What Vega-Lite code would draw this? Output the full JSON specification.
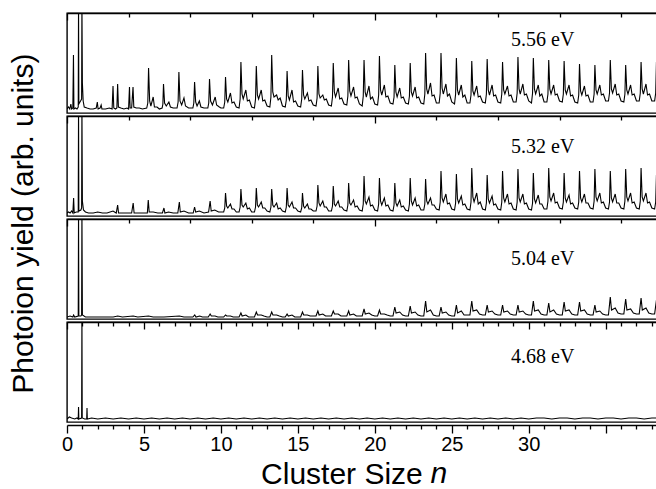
{
"$schema": "https://vega.github.io/schema/vega-lite/v6.json",
"padding": {"left": 8, "top": 11, "right": 0, "bottom": 0},
"title": {"text": "Photoion yield (arb. units)", "orient": "left", "anchor": "middle", "font": "Liberation Sans", "fontSize": 30, "fontWeight": "normal", "color": "black", "offset": 22, "dx": 27},
"spacing": 0,
"config": {
 "view": {"stroke": "black", "strokeWidth": 1.4},
 "axis": {"domainColor": "black", "domainWidth": 1.4, "tickColor": "black", "tickWidth": 1.3, "labelFont": "Liberation Sans", "labelFontSize": 20, "labelColor": "black", "titleFont": "Liberation Sans", "titleFontWeight": "normal", "titleFontSize": 30, "titleColor": "black", "grid": false},
 "concat": {"spacing": 0}
},
"datasets": {
"p1": [
{"x":0,"y":4},{"x":0.1,"y":6},{"x":0.18,"y":4},{"x":0.25,"y":9},{"x":0.3,"y":4},{"x":0.38,"y":5},{"x":0.42,"y":58},{"x":0.45,"y":4},{"x":0.55,"y":5},{"x":0.65,"y":4},{"x":0.73,"y":6},{"x":0.75,"y":110},{"x":0.77,"y":9},{"x":0.88,"y":12},{"x":0.95,"y":14},{"x":0.97,"y":110},{"x":1.0,"y":30},{"x":1.05,"y":12},{"x":1.12,"y":6},{"x":1.3,"y":5},{"x":1.5,"y":4},{"x":1.7,"y":4},{"x":1.9,"y":5},{"x":1.97,"y":11},{"x":2.02,"y":4},{"x":2.15,"y":5},{"x":2.22,"y":8},{"x":2.27,"y":4},{"x":2.5,"y":4},{"x":2.75,"y":5},{"x":2.93,"y":4},{"x":2.99,"y":27},{"x":3.04,"y":5},{"x":3.15,"y":4},{"x":3.24,"y":5},{"x":3.29,"y":29},{"x":3.34,"y":6},{"x":3.5,"y":5},{"x":3.7,"y":4},{"x":3.9,"y":5},{"x":4.0,"y":4},{"x":4.06,"y":26},{"x":4.1,"y":5},{"x":4.2,"y":5},{"x":4.29,"y":26},{"x":4.34,"y":6},{"x":4.5,"y":5},{"x":4.7,"y":5},{"x":4.9,"y":4},{"x":5.18,"y":5},{"x":5.25,"y":10},{"x":5.3,"y":45},{"x":5.37,"y":12},{"x":5.45,"y":7},{"x":5.6,"y":16},{"x":5.68,"y":6},{"x":5.85,"y":6},{"x":6.0,"y":4},{"x":6.18,"y":5},{"x":6.23,"y":9},{"x":6.27,"y":29},{"x":6.34,"y":10},{"x":6.45,"y":7},{"x":6.62,"y":11},{"x":6.72,"y":6},{"x":6.9,"y":5},{"x":7.15,"y":5},{"x":7.22,"y":11},{"x":7.27,"y":41},{"x":7.34,"y":12},{"x":7.45,"y":8},{"x":7.6,"y":15},{"x":7.7,"y":7},{"x":7.9,"y":5},{"x":8.18,"y":5},{"x":8.24,"y":10},{"x":8.29,"y":31},{"x":8.36,"y":11},{"x":8.45,"y":7},{"x":8.6,"y":12},{"x":8.7,"y":6},{"x":8.9,"y":5},{"x":9.15,"y":5},{"x":9.21,"y":10},{"x":9.26,"y":34},{"x":9.33,"y":12},{"x":9.45,"y":8},{"x":9.63,"y":16},{"x":9.72,"y":8},{"x":9.9,"y":6},{"x":10.0,"y":5},
{"x":10.18,"y":5},{"x":10.25,"y":11},{"x":10.3,"y":36},{"x":10.37,"y":14},{"x":10.45,"y":11},{"x":10.62,"y":20},{"x":10.72,"y":10},{"x":10.85,"y":11},{"x":11.0,"y":6},
{"x":11.18,"y":5},{"x":11.25,"y":14},{"x":11.3,"y":51},{"x":11.37,"y":19},{"x":11.45,"y":14},{"x":11.62,"y":23},{"x":11.72,"y":12},{"x":11.85,"y":13},{"x":12.0,"y":6},
{"x":12.18,"y":5},{"x":12.25,"y":14},{"x":12.3,"y":47},{"x":12.37,"y":18},{"x":12.45,"y":14},{"x":12.62,"y":23},{"x":12.72,"y":12},{"x":12.85,"y":13},{"x":13.0,"y":7},
{"x":13.18,"y":6},{"x":13.25,"y":16},{"x":13.3,"y":58},{"x":13.37,"y":21},{"x":13.45,"y":16},{"x":13.62,"y":18},{"x":13.72,"y":13},{"x":13.85,"y":15},{"x":14.0,"y":7},
{"x":14.18,"y":6},{"x":14.25,"y":13},{"x":14.3,"y":42},{"x":14.37,"y":17},{"x":14.45,"y":13},{"x":14.62,"y":23},{"x":14.72,"y":11},{"x":14.85,"y":12},{"x":15.0,"y":7},
{"x":15.18,"y":6},{"x":15.25,"y":14},{"x":15.3,"y":43},{"x":15.37,"y":18},{"x":15.45,"y":14},{"x":15.62,"y":20},{"x":15.72,"y":12},{"x":15.85,"y":13},{"x":16.0,"y":8},
{"x":16.18,"y":7},{"x":16.25,"y":15},{"x":16.3,"y":47},{"x":16.37,"y":19},{"x":16.45,"y":15},{"x":16.62,"y":18},{"x":16.72,"y":13},{"x":16.85,"y":14},{"x":17.0,"y":8},
{"x":17.18,"y":7},{"x":17.25,"y":16},{"x":17.3,"y":50},{"x":17.37,"y":21},{"x":17.45,"y":16},{"x":17.62,"y":25},{"x":17.72,"y":14},{"x":17.85,"y":15},{"x":18.0,"y":9},
{"x":18.18,"y":8},{"x":18.25,"y":17},{"x":18.3,"y":53},{"x":18.37,"y":22},{"x":18.45,"y":17},{"x":18.62,"y":26},{"x":18.72,"y":15},{"x":18.85,"y":16},{"x":19.0,"y":9},
{"x":19.18,"y":7},{"x":19.25,"y":17},{"x":19.3,"y":53},{"x":19.37,"y":21},{"x":19.45,"y":16},{"x":19.62,"y":27},{"x":19.72,"y":14},{"x":19.85,"y":16},{"x":20.0,"y":9},
{"x":20.18,"y":8},{"x":20.25,"y":18},{"x":20.3,"y":57},{"x":20.37,"y":23},{"x":20.45,"y":18},{"x":20.62,"y":28},{"x":20.72,"y":16},{"x":20.85,"y":17},{"x":21.0,"y":10},
{"x":21.18,"y":9},{"x":21.25,"y":16},{"x":21.3,"y":48},{"x":21.37,"y":21},{"x":21.45,"y":16},{"x":21.62,"y":25},{"x":21.72,"y":15},{"x":21.85,"y":16},{"x":22.0,"y":10},
{"x":22.18,"y":9},{"x":22.25,"y":17},{"x":22.3,"y":50},{"x":22.37,"y":21},{"x":22.45,"y":17},{"x":22.62,"y":26},{"x":22.72,"y":15},{"x":22.85,"y":16},{"x":23.0,"y":10},
{"x":23.18,"y":9},{"x":23.25,"y":19},{"x":23.3,"y":60},{"x":23.37,"y":24},{"x":23.45,"y":19},{"x":23.62,"y":30},{"x":23.72,"y":17},{"x":23.85,"y":18},{"x":24.0,"y":10},
{"x":24.18,"y":10},{"x":24.25,"y":20},{"x":24.3,"y":60},{"x":24.37,"y":25},{"x":24.45,"y":19},{"x":24.62,"y":29},{"x":24.72,"y":17},{"x":24.85,"y":19},{"x":25.0,"y":11},
{"x":25.18,"y":9},{"x":25.25,"y":19},{"x":25.3,"y":55},{"x":25.37,"y":23},{"x":25.45,"y":18},{"x":25.62,"y":28},{"x":25.72,"y":16},{"x":25.85,"y":18},{"x":26.0,"y":10},
{"x":26.18,"y":10},{"x":26.25,"y":18},{"x":26.3,"y":52},{"x":26.37,"y":22},{"x":26.45,"y":18},{"x":26.62,"y":27},{"x":26.72,"y":16},{"x":26.85,"y":17},{"x":27.0,"y":11},
{"x":27.18,"y":10},{"x":27.25,"y":19},{"x":27.3,"y":54},{"x":27.37,"y":23},{"x":27.45,"y":18},{"x":27.62,"y":28},{"x":27.72,"y":17},{"x":27.85,"y":18},{"x":28.0,"y":11},
{"x":28.18,"y":10},{"x":28.25,"y":19},{"x":28.3,"y":51},{"x":28.37,"y":23},{"x":28.45,"y":19},{"x":28.62,"y":27},{"x":28.72,"y":17},{"x":28.85,"y":18},{"x":29.0,"y":11},
{"x":29.18,"y":11},{"x":29.25,"y":20},{"x":29.3,"y":56},{"x":29.37,"y":24},{"x":29.45,"y":19},{"x":29.62,"y":29},{"x":29.72,"y":18},{"x":29.85,"y":19},{"x":30.0,"y":12},
{"x":30.18,"y":10},{"x":30.25,"y":20},{"x":30.3,"y":55},{"x":30.37,"y":24},{"x":30.45,"y":19},{"x":30.62,"y":28},{"x":30.72,"y":17},{"x":30.85,"y":19},{"x":31.0,"y":11},
{"x":31.18,"y":11},{"x":31.25,"y":19},{"x":31.3,"y":53},{"x":31.37,"y":24},{"x":31.45,"y":19},{"x":31.62,"y":28},{"x":31.72,"y":18},{"x":31.85,"y":19},{"x":32.0,"y":12},
{"x":32.18,"y":11},{"x":32.25,"y":19},{"x":32.3,"y":52},{"x":32.37,"y":23},{"x":32.45,"y":19},{"x":32.62,"y":28},{"x":32.72,"y":17},{"x":32.85,"y":18},{"x":33.0,"y":11},
{"x":33.18,"y":10},{"x":33.25,"y":18},{"x":33.3,"y":49},{"x":33.37,"y":22},{"x":33.45,"y":18},{"x":33.62,"y":27},{"x":33.72,"y":17},{"x":33.85,"y":18},{"x":34.0,"y":11},
{"x":34.18,"y":11},{"x":34.25,"y":19},{"x":34.3,"y":48},{"x":34.37,"y":23},{"x":34.45,"y":19},{"x":34.62,"y":28},{"x":34.72,"y":18},{"x":34.85,"y":19},{"x":35.0,"y":12},
{"x":35.18,"y":12},{"x":35.25,"y":20},{"x":35.3,"y":53},{"x":35.37,"y":24},{"x":35.45,"y":20},{"x":35.62,"y":29},{"x":35.72,"y":18},{"x":35.85,"y":19},{"x":36.0,"y":12},
{"x":36.18,"y":11},{"x":36.25,"y":19},{"x":36.3,"y":48},{"x":36.37,"y":23},{"x":36.45,"y":19},{"x":36.62,"y":28},{"x":36.72,"y":18},{"x":36.85,"y":19},{"x":37.0,"y":12},
{"x":37.18,"y":12},{"x":37.25,"y":20},{"x":37.3,"y":51},{"x":37.37,"y":24},{"x":37.45,"y":19},{"x":37.62,"y":29},{"x":37.72,"y":18},{"x":37.85,"y":19},{"x":38.0,"y":12},
{"x":38.18,"y":12},{"x":38.25,"y":20},{"x":38.3,"y":51},{"x":38.37,"y":24},{"x":38.45,"y":20}
],
"p2": [
{"x":0,"y":3},{"x":0.1,"y":4},{"x":0.2,"y":3},{"x":0.3,"y":5},{"x":0.38,"y":3},{"x":0.43,"y":18},{"x":0.47,"y":3},{"x":0.6,"y":4},{"x":0.73,"y":4},{"x":0.75,"y":110},{"x":0.77,"y":5},{"x":0.9,"y":6},{"x":0.95,"y":8},{"x":0.97,"y":110},{"x":1.0,"y":15},{"x":1.07,"y":6},{"x":1.2,"y":4},{"x":1.4,"y":3},{"x":1.7,"y":3},{"x":2.0,"y":4},{"x":2.3,"y":3},{"x":2.6,"y":3},{"x":2.99,"y":5},{"x":3.2,"y":3},{"x":3.29,"y":11},{"x":3.35,"y":3},{"x":3.6,"y":3},{"x":3.9,"y":3},{"x":4.2,"y":3},{"x":4.3,"y":13},{"x":4.36,"y":3},{"x":4.7,"y":3},{"x":5.0,"y":3},{"x":5.22,"y":3},{"x":5.28,"y":16},{"x":5.34,"y":4},{"x":5.6,"y":4},{"x":5.9,"y":3},{"x":6.2,"y":3},{"x":6.3,"y":8},{"x":6.36,"y":3},{"x":6.6,"y":4},{"x":6.9,"y":3},{"x":7.2,"y":3},{"x":7.3,"y":14},{"x":7.36,"y":4},{"x":7.6,"y":5},{"x":7.9,"y":3},{"x":8.2,"y":3},{"x":8.29,"y":9},{"x":8.36,"y":4},{"x":8.6,"y":5},{"x":8.9,"y":3},{"x":9.2,"y":4},{"x":9.3,"y":15},{"x":9.37,"y":5},{"x":9.6,"y":6},{"x":9.85,"y":4},{"x":10.0,"y":4},
{"x":10.18,"y":4},{"x":10.25,"y":8},{"x":10.3,"y":23},{"x":10.37,"y":10},{"x":10.45,"y":8},{"x":10.62,"y":12},{"x":10.72,"y":7},{"x":10.85,"y":7},{"x":11.0,"y":4},
{"x":11.18,"y":4},{"x":11.25,"y":9},{"x":11.3,"y":27},{"x":11.37,"y":11},{"x":11.45,"y":9},{"x":11.62,"y":13},{"x":11.72,"y":7},{"x":11.85,"y":8},{"x":12.0,"y":4},
{"x":12.18,"y":4},{"x":12.25,"y":9},{"x":12.3,"y":28},{"x":12.37,"y":11},{"x":12.45,"y":9},{"x":12.62,"y":14},{"x":12.72,"y":8},{"x":12.85,"y":8},{"x":13.0,"y":5},
{"x":13.18,"y":4},{"x":13.25,"y":9},{"x":13.3,"y":27},{"x":13.37,"y":11},{"x":13.45,"y":9},{"x":13.62,"y":13},{"x":13.72,"y":7},{"x":13.85,"y":8},{"x":14.0,"y":5},
{"x":14.18,"y":4},{"x":14.25,"y":9},{"x":14.3,"y":28},{"x":14.37,"y":11},{"x":14.45,"y":9},{"x":14.62,"y":14},{"x":14.72,"y":8},{"x":14.85,"y":8},{"x":15.0,"y":5},
{"x":15.18,"y":4},{"x":15.25,"y":8},{"x":15.3,"y":23},{"x":15.37,"y":10},{"x":15.45,"y":8},{"x":15.62,"y":12},{"x":15.72,"y":7},{"x":15.85,"y":7},{"x":16.0,"y":5},
{"x":16.18,"y":5},{"x":16.25,"y":10},{"x":16.3,"y":31},{"x":16.37,"y":13},{"x":16.45,"y":10},{"x":16.62,"y":15},{"x":16.72,"y":9},{"x":16.85,"y":9},{"x":17.0,"y":5},
{"x":17.18,"y":5},{"x":17.25,"y":10},{"x":17.3,"y":30},{"x":17.37,"y":12},{"x":17.45,"y":10},{"x":17.62,"y":15},{"x":17.72,"y":9},{"x":17.85,"y":9},{"x":18.0,"y":6},
{"x":18.18,"y":5},{"x":18.25,"y":11},{"x":18.3,"y":33},{"x":18.37,"y":13},{"x":18.45,"y":11},{"x":18.62,"y":16},{"x":18.72,"y":9},{"x":18.85,"y":10},{"x":19.0,"y":6},
{"x":19.18,"y":5},{"x":19.25,"y":12},{"x":19.3,"y":40},{"x":19.37,"y":15},{"x":19.45,"y":12},{"x":19.62,"y":19},{"x":19.72,"y":10},{"x":19.85,"y":11},{"x":20.0,"y":6},
{"x":20.18,"y":5},{"x":20.25,"y":12},{"x":20.3,"y":38},{"x":20.37,"y":15},{"x":20.45,"y":11},{"x":20.62,"y":18},{"x":20.72,"y":10},{"x":20.85,"y":11},{"x":21.0,"y":6},
{"x":21.18,"y":5},{"x":21.25,"y":11},{"x":21.3,"y":33},{"x":21.37,"y":13},{"x":21.45,"y":10},{"x":21.62,"y":16},{"x":21.72,"y":9},{"x":21.85,"y":10},{"x":22.0,"y":6},
{"x":22.18,"y":5},{"x":22.25,"y":12},{"x":22.3,"y":38},{"x":22.37,"y":15},{"x":22.45,"y":11},{"x":22.62,"y":18},{"x":22.72,"y":10},{"x":22.85,"y":11},{"x":23.0,"y":6},
{"x":23.18,"y":6},{"x":23.25,"y":12},{"x":23.3,"y":37},{"x":23.37,"y":15},{"x":23.45,"y":12},{"x":23.62,"y":18},{"x":23.72,"y":11},{"x":23.85,"y":11},{"x":24.0,"y":7},
{"x":24.18,"y":6},{"x":24.25,"y":14},{"x":24.3,"y":45},{"x":24.37,"y":18},{"x":24.45,"y":14},{"x":24.62,"y":22},{"x":24.72,"y":12},{"x":24.85,"y":13},{"x":25.0,"y":7},
{"x":25.18,"y":6},{"x":25.25,"y":13},{"x":25.3,"y":42},{"x":25.37,"y":17},{"x":25.45,"y":13},{"x":25.62,"y":20},{"x":25.72,"y":11},{"x":25.85,"y":12},{"x":26.0,"y":7},
{"x":26.18,"y":6},{"x":26.25,"y":14},{"x":26.3,"y":48},{"x":26.37,"y":19},{"x":26.45,"y":14},{"x":26.62,"y":23},{"x":26.72,"y":12},{"x":26.85,"y":14},{"x":27.0,"y":7},
{"x":27.18,"y":6},{"x":27.25,"y":13},{"x":27.3,"y":41},{"x":27.37,"y":17},{"x":27.45,"y":13},{"x":27.62,"y":20},{"x":27.72,"y":11},{"x":27.85,"y":12},{"x":28.0,"y":7},
{"x":28.18,"y":6},{"x":28.25,"y":14},{"x":28.3,"y":45},{"x":28.37,"y":18},{"x":28.45,"y":14},{"x":28.62,"y":22},{"x":28.72,"y":12},{"x":28.85,"y":13},{"x":29.0,"y":7},
{"x":29.18,"y":6},{"x":29.25,"y":14},{"x":29.3,"y":47},{"x":29.37,"y":18},{"x":29.45,"y":14},{"x":29.62,"y":22},{"x":29.72,"y":12},{"x":29.85,"y":13},{"x":30.0,"y":7},
{"x":30.18,"y":6},{"x":30.25,"y":13},{"x":30.3,"y":43},{"x":30.37,"y":17},{"x":30.45,"y":13},{"x":30.62,"y":21},{"x":30.72,"y":12},{"x":30.85,"y":12},{"x":31.0,"y":7},
{"x":31.18,"y":7},{"x":31.25,"y":15},{"x":31.3,"y":48},{"x":31.37,"y":19},{"x":31.45,"y":15},{"x":31.62,"y":23},{"x":31.72,"y":13},{"x":31.85,"y":14},{"x":32.0,"y":8},
{"x":32.18,"y":7},{"x":32.25,"y":14},{"x":32.3,"y":43},{"x":32.37,"y":18},{"x":32.45,"y":14},{"x":32.62,"y":21},{"x":32.72,"y":12},{"x":32.85,"y":13},{"x":33.0,"y":8},
{"x":33.18,"y":7},{"x":33.25,"y":14},{"x":33.3,"y":45},{"x":33.37,"y":18},{"x":33.45,"y":14},{"x":33.62,"y":22},{"x":33.72,"y":13},{"x":33.85,"y":13},{"x":34.0,"y":8},
{"x":34.18,"y":7},{"x":34.25,"y":15},{"x":34.3,"y":47},{"x":34.37,"y":19},{"x":34.45,"y":15},{"x":34.62,"y":23},{"x":34.72,"y":13},{"x":34.85,"y":14},{"x":35.0,"y":8},
{"x":35.18,"y":7},{"x":35.25,"y":14},{"x":35.3,"y":45},{"x":35.37,"y":18},{"x":35.45,"y":14},{"x":35.62,"y":22},{"x":35.72,"y":13},{"x":35.85,"y":13},{"x":36.0,"y":8},
{"x":36.18,"y":7},{"x":36.25,"y":15},{"x":36.3,"y":47},{"x":36.37,"y":19},{"x":36.45,"y":15},{"x":36.62,"y":23},{"x":36.72,"y":13},{"x":36.85,"y":14},{"x":37.0,"y":8},
{"x":37.18,"y":7},{"x":37.25,"y":15},{"x":37.3,"y":48},{"x":37.37,"y":19},{"x":37.45,"y":15},{"x":37.62,"y":23},{"x":37.72,"y":13},{"x":37.85,"y":14},{"x":38.0,"y":8},
{"x":38.18,"y":7},{"x":38.25,"y":14},{"x":38.3,"y":41},{"x":38.37,"y":17},{"x":38.45,"y":14}
],
"p3": [
{"x":0,"y":2},{"x":0.2,"y":3},{"x":0.38,"y":2},{"x":0.43,"y":4},{"x":0.5,"y":2},{"x":0.73,"y":3},{"x":0.75,"y":110},{"x":0.77,"y":3},{"x":0.9,"y":3},{"x":0.95,"y":4},{"x":0.97,"y":110},{"x":1.0,"y":4},{"x":1.2,"y":2},{"x":1.6,"y":2},{"x":2.0,"y":2},{"x":2.5,"y":2},{"x":3.0,"y":2},{"x":3.3,"y":3},{"x":3.6,"y":2},{"x":4.3,"y":3},{"x":4.6,"y":2},{"x":5.3,"y":3},{"x":5.6,"y":2},{"x":6.3,"y":2},{"x":7.3,"y":3},{"x":7.6,"y":2},{"x":8.0,"y":2},
{"x":8.18,"y":2},{"x":8.3,"y":4},{"x":8.38,"y":2},{"x":8.62,"y":3},{"x":8.8,"y":2},{"x":9.0,"y":2},
{"x":9.18,"y":2},{"x":9.3,"y":5},{"x":9.38,"y":3},{"x":9.62,"y":3},{"x":9.8,"y":2},{"x":10.0,"y":2},
{"x":10.18,"y":2},{"x":10.3,"y":4},{"x":10.38,"y":3},{"x":10.62,"y":3},{"x":10.8,"y":2},{"x":11.0,"y":2},
{"x":11.18,"y":2},{"x":11.3,"y":6},{"x":11.38,"y":3},{"x":11.62,"y":4},{"x":11.8,"y":2},{"x":12.0,"y":2},
{"x":12.18,"y":2},{"x":12.3,"y":7},{"x":12.38,"y":4},{"x":12.62,"y":4},{"x":12.8,"y":3},{"x":13.0,"y":2},
{"x":13.18,"y":2},{"x":13.3,"y":7},{"x":13.38,"y":4},{"x":13.62,"y":4},{"x":13.8,"y":3},{"x":14.0,"y":2},
{"x":14.18,"y":2},{"x":14.3,"y":5},{"x":14.38,"y":3},{"x":14.62,"y":4},{"x":14.8,"y":2},{"x":15.0,"y":2},
{"x":15.18,"y":2},{"x":15.3,"y":7},{"x":15.38,"y":4},{"x":15.62,"y":4},{"x":15.8,"y":3},{"x":16.0,"y":3},
{"x":16.18,"y":3},{"x":16.3,"y":8},{"x":16.38,"y":4},{"x":16.62,"y":5},{"x":16.8,"y":3},{"x":17.0,"y":3},
{"x":17.18,"y":3},{"x":17.3,"y":8},{"x":17.38,"y":5},{"x":17.62,"y":5},{"x":17.8,"y":3},{"x":18.0,"y":3},
{"x":18.18,"y":3},{"x":18.3,"y":8},{"x":18.38,"y":4},{"x":18.62,"y":5},{"x":18.8,"y":3},{"x":19.0,"y":3},
{"x":19.18,"y":3},{"x":19.3,"y":10},{"x":19.38,"y":5},{"x":19.62,"y":6},{"x":19.8,"y":4},{"x":20.0,"y":3},
{"x":20.18,"y":3},{"x":20.3,"y":9},{"x":20.38,"y":5},{"x":20.62,"y":5},{"x":20.8,"y":4},{"x":21.0,"y":3},
{"x":21.18,"y":3},{"x":21.3,"y":12},{"x":21.38,"y":6},{"x":21.62,"y":7},{"x":21.8,"y":4},{"x":22.0,"y":3},
{"x":22.18,"y":3},{"x":22.3,"y":13},{"x":22.38,"y":6},{"x":22.62,"y":7},{"x":22.8,"y":4},{"x":23.0,"y":3},
{"x":23.18,"y":3},{"x":23.3,"y":18},{"x":23.38,"y":7},{"x":23.62,"y":9},{"x":23.8,"y":4},{"x":24.0,"y":3},
{"x":24.18,"y":3},{"x":24.3,"y":12},{"x":24.38,"y":6},{"x":24.62,"y":7},{"x":24.8,"y":4},{"x":25.0,"y":3},
{"x":25.18,"y":3},{"x":25.3,"y":14},{"x":25.38,"y":6},{"x":25.62,"y":8},{"x":25.8,"y":4},{"x":26.0,"y":4},
{"x":26.18,"y":4},{"x":26.3,"y":18},{"x":26.38,"y":8},{"x":26.62,"y":9},{"x":26.8,"y":5},{"x":27.0,"y":4},
{"x":27.18,"y":4},{"x":27.3,"y":14},{"x":27.38,"y":7},{"x":27.62,"y":8},{"x":27.8,"y":5},{"x":28.0,"y":4},
{"x":28.18,"y":4},{"x":28.3,"y":14},{"x":28.38,"y":7},{"x":28.62,"y":8},{"x":28.8,"y":5},{"x":29.0,"y":4},
{"x":29.18,"y":4},{"x":29.3,"y":14},{"x":29.38,"y":7},{"x":29.62,"y":8},{"x":29.8,"y":5},{"x":30.0,"y":4},
{"x":30.18,"y":4},{"x":30.3,"y":18},{"x":30.38,"y":8},{"x":30.62,"y":9},{"x":30.8,"y":5},{"x":31.0,"y":4},
{"x":31.18,"y":4},{"x":31.3,"y":16},{"x":31.38,"y":7},{"x":31.62,"y":9},{"x":31.8,"y":5},{"x":32.0,"y":4},
{"x":32.18,"y":4},{"x":32.3,"y":17},{"x":32.38,"y":8},{"x":32.62,"y":9},{"x":32.8,"y":5},{"x":33.0,"y":4},
{"x":33.18,"y":4},{"x":33.3,"y":17},{"x":33.38,"y":8},{"x":33.62,"y":9},{"x":33.8,"y":5},{"x":34.0,"y":4},
{"x":34.18,"y":4},{"x":34.3,"y":14},{"x":34.38,"y":7},{"x":34.62,"y":8},{"x":34.8,"y":5},{"x":35.0,"y":4},
{"x":35.18,"y":4},{"x":35.3,"y":22},{"x":35.38,"y":9},{"x":35.62,"y":11},{"x":35.8,"y":6},{"x":36.0,"y":5},
{"x":36.18,"y":5},{"x":36.3,"y":20},{"x":36.38,"y":9},{"x":36.62,"y":10},{"x":36.8,"y":6},{"x":37.0,"y":5},
{"x":37.18,"y":5},{"x":37.3,"y":21},{"x":37.38,"y":9},{"x":37.62,"y":11},{"x":37.8,"y":6},{"x":38.0,"y":5},
{"x":38.18,"y":5},{"x":38.3,"y":19},{"x":38.38,"y":8}
],
"p4": [
{"x":0,"y":3},{"x":0.15,"y":5},{"x":0.3,"y":4},{"x":0.5,"y":3},{"x":0.65,"y":4},{"x":0.73,"y":3},{"x":0.75,"y":15},{"x":0.77,"y":3},{"x":0.95,"y":4},{"x":0.97,"y":110},{"x":0.99,"y":4},{"x":1.15,"y":3},{"x":1.28,"y":3},{"x":1.3,"y":14},{"x":1.32,"y":3},{"x":1.6,"y":4},{"x":2,"y":3},{"x":2.5,"y":4},{"x":3,"y":3},{"x":3.5,"y":4},{"x":4,"y":3},{"x":4.5,"y":4},{"x":5,"y":3},{"x":5.5,"y":4},{"x":6,"y":3},{"x":6.5,"y":4},{"x":7,"y":3},{"x":7.5,"y":4},{"x":8,"y":3},{"x":8.5,"y":4},{"x":9,"y":3},{"x":9.5,"y":4},{"x":10,"y":3},{"x":10.5,"y":4},{"x":11,"y":3},{"x":11.5,"y":4},{"x":12,"y":3},{"x":12.5,"y":4},{"x":13,"y":3},{"x":13.5,"y":4},{"x":14,"y":3},{"x":14.5,"y":4},{"x":15,"y":3},{"x":15.5,"y":4},{"x":16,"y":3},{"x":16.5,"y":4},{"x":17,"y":3},{"x":17.5,"y":4},{"x":18,"y":3},{"x":18.5,"y":4},{"x":19,"y":3},{"x":19.5,"y":4},{"x":20,"y":3},{"x":20.5,"y":4},{"x":21,"y":3},{"x":21.5,"y":4},{"x":22,"y":3},{"x":22.5,"y":4},{"x":23,"y":3},{"x":23.5,"y":4},{"x":24,"y":3},{"x":24.5,"y":4},{"x":25,"y":3},{"x":25.5,"y":4},{"x":26,"y":3},{"x":26.5,"y":4},{"x":27,"y":3},{"x":27.5,"y":4},{"x":28,"y":3},{"x":28.5,"y":4},{"x":29,"y":3},{"x":29.5,"y":4},{"x":30,"y":3},{"x":30.5,"y":4},{"x":31,"y":4},{"x":31.5,"y":3},{"x":32,"y":4},{"x":32.5,"y":4},{"x":33,"y":3},{"x":33.5,"y":4},{"x":34,"y":4},{"x":34.5,"y":3},{"x":35,"y":4},{"x":35.5,"y":4},{"x":36,"y":3},{"x":36.5,"y":4},{"x":37,"y":4},{"x":37.5,"y":3},{"x":38,"y":4},{"x":38.4,"y":4}
]
},
"vconcat": [
{"width": 591, "height": 100, "layer": [
 {"data": {"name": "p1"}, "mark": {"type": "line", "color": "black", "strokeWidth": 1.1, "clip": true},
  "encoding": {
   "x": {"field": "x", "type": "quantitative", "scale": {"domain": [0, 38.4], "nice": false, "zero": false},
    "axis": {"orient": "top", "values": [0,1,2,3,4,5,6,7,8,9,10,11,12,13,14,15,16,17,18,19,20,21,22,23,24,25,26,27,28,29,30,31,32,33,34,35,36,37,38], "labels": false, "title": null, "tickSize": {"condition": {"test": "datum.value % 5 === 0", "value": -7}, "value": -4}}},
   "y": {"field": "y", "type": "quantitative", "scale": {"domain": [0, 100], "nice": false}, "axis": null}}},
 {"data": {"values": [{"x": 28.85, "y": 67, "t": "5.56 eV"}]}, "mark": {"type": "text", "font": "Liberation Serif", "fontSize": 20, "align": "left", "baseline": "alphabetic", "color": "black"},
  "encoding": {"x": {"field": "x", "type": "quantitative"}, "y": {"field": "y", "type": "quantitative"}, "text": {"field": "t"}}}
]},
{"width": 591, "height": 100, "layer": [
 {"data": {"name": "p2"}, "mark": {"type": "line", "color": "black", "strokeWidth": 1.1, "clip": true},
  "encoding": {
   "x": {"field": "x", "type": "quantitative", "scale": {"domain": [0, 38.4], "nice": false, "zero": false},
    "axis": {"orient": "top", "values": [0,1,2,3,4,5,6,7,8,9,10,11,12,13,14,15,16,17,18,19,20,21,22,23,24,25,26,27,28,29,30,31,32,33,34,35,36,37,38], "labels": false, "title": null, "tickSize": {"condition": {"test": "datum.value % 5 === 0", "value": -7}, "value": -4}}},
   "y": {"field": "y", "type": "quantitative", "scale": {"domain": [0, 100], "nice": false}, "axis": null}}},
 {"data": {"values": [{"x": 28.85, "y": 63, "t": "5.32 eV"}]}, "mark": {"type": "text", "font": "Liberation Serif", "fontSize": 20, "align": "left", "baseline": "alphabetic", "color": "black"},
  "encoding": {"x": {"field": "x", "type": "quantitative"}, "y": {"field": "y", "type": "quantitative"}, "text": {"field": "t"}}}
]},
{"width": 591, "height": 100, "layer": [
 {"data": {"name": "p3"}, "mark": {"type": "line", "color": "black", "strokeWidth": 1.1, "clip": true},
  "encoding": {
   "x": {"field": "x", "type": "quantitative", "scale": {"domain": [0, 38.4], "nice": false, "zero": false},
    "axis": {"orient": "top", "values": [0,1,2,3,4,5,6,7,8,9,10,11,12,13,14,15,16,17,18,19,20,21,22,23,24,25,26,27,28,29,30,31,32,33,34,35,36,37,38], "labels": false, "title": null, "tickSize": {"condition": {"test": "datum.value % 5 === 0", "value": -7}, "value": -4}}},
   "y": {"field": "y", "type": "quantitative", "scale": {"domain": [0, 100], "nice": false}, "axis": null}}},
 {"data": {"values": [{"x": 28.85, "y": 54, "t": "5.04 eV"}]}, "mark": {"type": "text", "font": "Liberation Serif", "fontSize": 20, "align": "left", "baseline": "alphabetic", "color": "black"},
  "encoding": {"x": {"field": "x", "type": "quantitative"}, "y": {"field": "y", "type": "quantitative"}, "text": {"field": "t"}}}
]},
{"width": 591, "height": 100, "resolve": {"axis": {"x": "independent"}}, "layer": [
 {"data": {"name": "p4"}, "mark": {"type": "line", "color": "black", "strokeWidth": 1.1, "clip": true},
  "encoding": {
   "x": {"field": "x", "type": "quantitative", "scale": {"domain": [0, 38.4], "nice": false, "zero": false},
    "axis": {"orient": "top", "values": [0,1,2,3,4,5,6,7,8,9,10,11,12,13,14,15,16,17,18,19,20,21,22,23,24,25,26,27,28,29,30,31,32,33,34,35,36,37,38], "labels": false, "title": null, "tickSize": {"condition": {"test": "datum.value % 5 === 0", "value": -7}, "value": -4}}},
   "y": {"field": "y", "type": "quantitative", "scale": {"domain": [0, 100], "nice": false}, "axis": null}}},
 {"data": {"values": [{"x": 28.85, "y": 59, "t": "4.68 eV"}]}, "mark": {"type": "text", "font": "Liberation Serif", "fontSize": 20, "align": "left", "baseline": "alphabetic", "color": "black"},
  "encoding": {"x": {"field": "x", "type": "quantitative",
    "axis": {"orient": "bottom", "offset": 3, "values": [0,1,2,3,4,5,6,7,8,9,10,11,12,13,14,15,16,17,18,19,20,21,22,23,24,25,26,27,28,29,30,31,32,33,34,35,36,37,38], "labelExpr": "datum.value % 5 === 0 && datum.value <= 30 ? datum.label : ''", "labelOverlap": false, "labelFlush": false, "labelPadding": 1, "tickSize": {"condition": {"test": "datum.value % 5 === 0", "value": 8}, "value": 4}, "title": "Cluster Size", "titleX": 355.3, "titleAlign": "right", "titleY": 58, "titleBaseline": "alphabetic"}},
   "y": {"field": "y", "type": "quantitative"}, "text": {"field": "t"}}},
 {"data": {"values": [{"x": 23.62, "y": -61, "t": "n"}]}, "mark": {"type": "text", "font": "Liberation Sans", "fontSize": 30, "fontStyle": "italic", "align": "left", "baseline": "alphabetic", "color": "black", "clip": false},
  "encoding": {"x": {"field": "x", "type": "quantitative", "axis": null}, "y": {"field": "y", "type": "quantitative"}, "text": {"field": "t"}}}
]}
]
}
